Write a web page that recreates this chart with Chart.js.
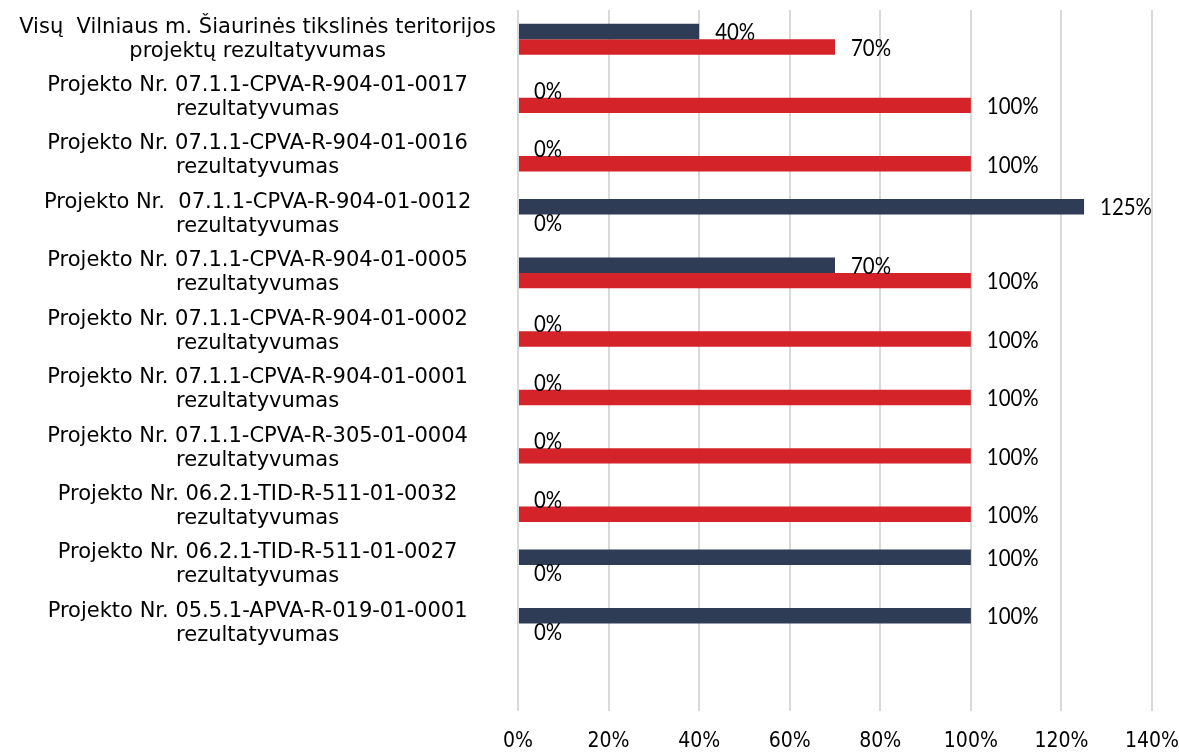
<!DOCTYPE html>
<html>
<head>
<meta charset="utf-8">
<script src="https://cdn.jsdelivr.net/npm/chart.js@4/dist/chart.umd.min.js"></script>
<style>
  body { margin: 0; background: #fff; }
  #wrap { width: 1179px; height: 752px; }
</style>
</head>
<body>
<div id="wrap"><canvas id="grafico" width="1179" height="752"></canvas></div>
<script>
// Categorias (de cima para baixo), a última fica vazia como no original
const categorias = [
    ['Visų  Vilniaus m. Šiaurinės tikslinės teritorijos', 'projektų rezultatyvumas'],
    ['Projekto Nr. 07.1.1-CPVA-R-904-01-0017', 'rezultatyvumas'],
    ['Projekto Nr. 07.1.1-CPVA-R-904-01-0016', 'rezultatyvumas'],
    ['Projekto Nr.  07.1.1-CPVA-R-904-01-0012', 'rezultatyvumas'],
    ['Projekto Nr. 07.1.1-CPVA-R-904-01-0005', 'rezultatyvumas'],
    ['Projekto Nr. 07.1.1-CPVA-R-904-01-0002', 'rezultatyvumas'],
    ['Projekto Nr. 07.1.1-CPVA-R-904-01-0001', 'rezultatyvumas'],
    ['Projekto Nr. 07.1.1-CPVA-R-305-01-0004', 'rezultatyvumas'],
    ['Projekto Nr. 06.2.1-TID-R-511-01-0032', 'rezultatyvumas'],
    ['Projekto Nr. 06.2.1-TID-R-511-01-0027', 'rezultatyvumas'],
    ['Projekto Nr. 05.5.1-APVA-R-019-01-0001', 'rezultatyvumas'],
    ''
];

// Valores em %
const valoresAzuis = [40, 0, 0, 125, 70, 0, 0, 0, 0, 100, 100, null];
const valoresVermelhos = [70, 100, 100, 0, 100, 100, 100, 100, 100, 0, 0, null];

// Marcas do eixo X
const marcasEixoX = [0, 20, 40, 60, 80, 100, 120, 140];

// Plugin simples para escrever os rótulos no fim das barras
const rotulosPlugin = {
    id: 'rotulos',
    afterDatasetsDraw(chart) {
        const ctx = chart.ctx;
        chart.data.datasets.forEach((ds, i) => {
            chart.getDatasetMeta(i).data.forEach((barra, j) => {
                const v = ds.data[j];
                if (v === null || v === undefined) return;
                // texto um pouco estreitado, parecido com Calibri
                ctx.save();
                ctx.translate(barra.x + 16, barra.y + 1);
                ctx.scale(0.85, 1);
                ctx.font = '24px Lato, "Open Sans", sans-serif';
                ctx.fillStyle = '#000';
                ctx.textAlign = 'left';
                ctx.textBaseline = 'middle';
                ctx.fillText(v + '%', 0, 0);
                ctx.restore();
            });
        });
    }
};

const ctx = document.getElementById('grafico').getContext('2d');
new Chart(ctx, {
    type: 'bar',
    data: {
        labels: categorias,
        datasets: [{
            data: valoresAzuis,
            backgroundColor: '#2E3D55',
            barPercentage: 1,
            categoryPercentage: 0.53
        }, {
            data: valoresVermelhos,
            backgroundColor: '#D5232A',
            barPercentage: 1,
            categoryPercentage: 0.53
        }]
    },
    options: {
        indexAxis: 'y',
        responsive: false,
        animation: false,
        layout: { padding: { top: 10, right: 27, left: 0, bottom: 0 } },
        plugins: {
            legend: { display: false },
            tooltip: { enabled: false }
        },
        scales: {
            x: {
                min: marcasEixoX[0],
                max: marcasEixoX[marcasEixoX.length - 1],
                afterBuildTicks(scale) {
                    scale.ticks = marcasEixoX.map(v => ({ value: v }));
                },
                afterFit(scale) {
                    scale.height = 41;
                    scale.paddingLeft = 0;
                    scale.paddingRight = 0;
                },
                grid: { color: '#D9D9D9', lineWidth: 2, drawTicks: false },
                border: { display: false },
                ticks: {
                    padding: 18,
                    color: '#000',
                    font: { family: '"Liberation Sans Narrow", "DejaVu Sans Condensed", sans-serif', size: 21 },
                    callback: v => v + '%'
                }
            },
            y: {
                grid: { display: false },
                border: { display: false },
                afterFit(scale) {
                    scale.width = 518;
                    scale.paddingTop = 0;
                    scale.paddingBottom = 0;
                },
                ticks: {
                    crossAlign: 'center',
                    padding: 14,
                    color: '#000',
                    font: { family: '"DejaVu Sans", sans-serif', size: 21, lineHeight: 1.143 },
                    autoSkip: false
                }
            }
        }
    },
    plugins: [rotulosPlugin]
});
</script>
</body>
</html>
